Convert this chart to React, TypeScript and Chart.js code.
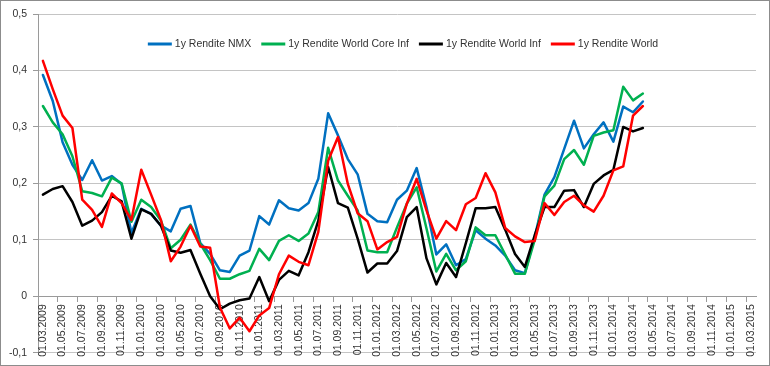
import React, { useEffect, useRef } from 'react';
import { Chart, registerables } from 'chart.js';

Chart.register(...registerables);

// ---- data ----
const categories: string[] = [
  '01.03.2009', '01.04.2009', '01.05.2009', '01.06.2009', '01.07.2009', '01.08.2009', '01.09.2009', '01.10.2009', '01.11.2009', '01.12.2009',
  '01.01.2010', '01.02.2010', '01.03.2010', '01.04.2010', '01.05.2010', '01.06.2010', '01.07.2010', '01.08.2010', '01.09.2010', '01.10.2010', '01.11.2010', '01.12.2010',
  '01.01.2011', '01.02.2011', '01.03.2011', '01.04.2011', '01.05.2011', '01.06.2011', '01.07.2011', '01.08.2011', '01.09.2011', '01.10.2011', '01.11.2011', '01.12.2011',
  '01.01.2012', '01.02.2012', '01.03.2012', '01.04.2012', '01.05.2012', '01.06.2012', '01.07.2012', '01.08.2012', '01.09.2012', '01.10.2012', '01.11.2012', '01.12.2012',
  '01.01.2013', '01.02.2013', '01.03.2013', '01.04.2013', '01.05.2013', '01.06.2013', '01.07.2013', '01.08.2013', '01.09.2013', '01.10.2013', '01.11.2013', '01.12.2013',
  '01.01.2014', '01.02.2014', '01.03.2014', '01.04.2014', '01.05.2014', '01.06.2014', '01.07.2014', '01.08.2014', '01.09.2014', '01.10.2014', '01.11.2014', '01.12.2014',
  '01.01.2015', '01.02.2015', '01.03.2015',
];

const seriesNames: string[] = [
  '1y Rendite NMX',
  '1y Rendite World Core Inf',
  '1y Rendite World Inf',
  '1y Rendite World',
];

const nmx: number[] = [
  0.392, 0.346, 0.273, 0.233, 0.206, 0.241, 0.205, 0.213, 0.199, 0.112,
  0.155, 0.146, 0.125, 0.115, 0.155, 0.160, 0.094, 0.075, 0.046, 0.043, 0.072, 0.081,
  0.142, 0.127, 0.170, 0.156, 0.152, 0.165, 0.208, 0.324, 0.285, 0.243, 0.216, 0.146,
  0.133, 0.131, 0.171, 0.187, 0.227, 0.158, 0.074, 0.092, 0.055, 0.066, 0.117, 0.102,
  0.090, 0.072, 0.046, 0.041, 0.105, 0.180, 0.211, 0.261, 0.311, 0.262, 0.287, 0.308,
  0.274, 0.336, 0.326, 0.345,
];

const worldCoreInf: number[] = [
  0.337, 0.308, 0.287, 0.248, 0.186, 0.183, 0.177, 0.210, 0.200, 0.132,
  0.171, 0.158, 0.134, 0.085, 0.100, 0.127, 0.093, 0.064, 0.031, 0.031, 0.039, 0.045,
  0.084, 0.064, 0.098, 0.108, 0.098, 0.111, 0.149, 0.263, 0.205, 0.178, 0.152, 0.081,
  0.078, 0.078, 0.122, 0.164, 0.193, 0.120, 0.044, 0.075, 0.046, 0.062, 0.122, 0.108,
  0.108, 0.074, 0.040, 0.040, 0.100, 0.177, 0.196, 0.243, 0.259, 0.233, 0.284, 0.290,
  0.294, 0.371, 0.347, 0.359,
];

const worldInf: number[] = [
  0.180, 0.190, 0.195, 0.167, 0.125, 0.134, 0.149, 0.178, 0.168, 0.102,
  0.154, 0.146, 0.125, 0.081, 0.077, 0.082, 0.040, 0.000, -0.023, -0.013, -0.007, -0.004,
  0.034, -0.009, 0.029, 0.045, 0.037, 0.078, 0.134, 0.229, 0.165, 0.157, 0.102, 0.042,
  0.058, 0.058, 0.080, 0.140, 0.158, 0.067, 0.021, 0.059, 0.034, 0.094, 0.156, 0.156,
  0.158, 0.118, 0.075, 0.052, 0.108, 0.158, 0.158, 0.187, 0.188, 0.158, 0.199, 0.214,
  0.224, 0.300, 0.292, 0.298,
];

const world: number[] = [
  0.417, 0.367, 0.320, 0.298, 0.171, 0.153, 0.123, 0.182, 0.165, 0.135,
  0.224, 0.180, 0.135, 0.062, 0.088, 0.125, 0.088, 0.086, -0.020, -0.057, -0.038, -0.062,
  -0.034, -0.021, 0.039, 0.072, 0.061, 0.055, 0.114, 0.240, 0.282, 0.199, 0.147, 0.133,
  0.083, 0.096, 0.105, 0.164, 0.208, 0.152, 0.102, 0.133, 0.117, 0.163, 0.174, 0.218,
  0.184, 0.121, 0.106, 0.096, 0.098, 0.165, 0.144, 0.167, 0.178, 0.161, 0.150, 0.178,
  0.223, 0.230, 0.320, 0.337,
];

const seriesValues: number[][] = [nmx, worldCoreInf, worldInf, world];
const seriesColors: string[] = ['#0070C0', '#00B050', '#000000', '#FF0000'];

const yMin = -0.1;
const yMax = 0.5;
const yStep = 0.1;

// ---- styles ----
const FONT_FAMILY = '"Liberation Sans", Arial, sans-serif';
const FONT_SIZE = 10.5;
const TEXT_COLOR = '#333333';
const GRID_COLOR = '#c4c4c4';
const AXIS_COLOR = '#9a9a9a';

const insideLegend = {
  id: 'insideLegend',
  afterDatasetsDraw(chart: any) {
    const ctx = chart.ctx as CanvasRenderingContext2D;
    const area = chart.chartArea;
    ctx.save();
    ctx.font = `${FONT_SIZE}px ${FONT_FAMILY}`;
    const lineLen = 24;
    const textGap = 3;
    const itemGap = 10;
    const items = chart.data.datasets.map((ds: any) => ({
      text: ds.label as string,
      color: ds.borderColor as string,
      w: ctx.measureText(ds.label).width,
    }));
    const total =
      items.reduce((s: number, it: any) => s + lineLen + textGap + it.w, 0) + itemGap * (items.length - 1);
    const cx = (area.left + area.right) / 2 + 6;
    const cy = area.top + 30;
    let x = cx - total / 2;
    ctx.textBaseline = 'middle';
    ctx.textAlign = 'left';
    for (const it of items) {
      ctx.strokeStyle = it.color;
      ctx.lineWidth = 3;
      ctx.lineCap = 'butt';
      ctx.beginPath();
      ctx.moveTo(x, cy);
      ctx.lineTo(x + lineLen, cy);
      ctx.stroke();
      ctx.fillStyle = TEXT_COLOR;
      ctx.fillText(it.text, x + lineLen + textGap, cy + 0.5);
      x += lineLen + textGap + it.w + itemGap;
    }
    ctx.restore();
  },
};

function fmt(v: number): string {
  if (Math.abs(v) < 1e-9) return '0';
  return v.toFixed(1).replace('.', ',');
}

export default function App() {
  const canvasRef = useRef<HTMLCanvasElement | null>(null);

  useEffect(() => {
    if (!canvasRef.current) return;
    const chart = new Chart(canvasRef.current, {
      type: 'line',
      data: {
        labels: categories,
        datasets: seriesNames.map((name, i) => ({
          label: name,
          data: seriesValues[i],
          borderColor: seriesColors[i],
          backgroundColor: seriesColors[i],
          borderWidth: 2.5,
          pointRadius: 0,
          pointHoverRadius: 0,
          tension: 0,
          fill: false,
          borderJoinStyle: 'round' as const,
          borderCapStyle: 'round' as const,
          order: seriesNames.length - i,
        })),
      },
      options: {
        animation: false,
        responsive: false,
        maintainAspectRatio: false,
        layout: { padding: { left: 0, right: 13, top: 13, bottom: 12 } },
        plugins: {
          legend: { display: false },
          tooltip: { enabled: false },
        },
        scales: {
          y: {
            min: yMin,
            max: yMax,
            afterFit(scale: any) {
              scale.width = 37;
            },
            ticks: {
              stepSize: yStep,
              padding: 6,
              color: TEXT_COLOR,
              font: { family: FONT_FAMILY, size: FONT_SIZE },
              callback: (v: any) => fmt(Number(v)),
            },
            grid: {
              color: GRID_COLOR,
              lineWidth: 1,
              drawTicks: true,
              tickLength: 5,
              tickColor: AXIS_COLOR,
            },
            border: { display: true, color: AXIS_COLOR, width: 1 },
          },
          x: {
            type: 'category',
            position: { y: 0 } as any,
            offset: true,
            ticks: {
              autoSkip: false,
              minRotation: 90,
              maxRotation: 90,
              padding: 3,
              color: TEXT_COLOR,
              font: { family: FONT_FAMILY, size: FONT_SIZE },
              callback: (_v: any, idx: number) => (idx % 2 === 0 ? categories[idx] : ''),
            },
            grid: {
              offset: true,
              drawOnChartArea: false,
              drawTicks: true,
              tickLength: 5,
              color: (ctx: any) => (ctx.index % 2 === 0 ? AXIS_COLOR : 'rgba(0,0,0,0)'),
            },
            border: { display: true, color: AXIS_COLOR, width: 1 },
          },
        },
      },
      plugins: [insideLegend],
    });
    return () => chart.destroy();
  }, []);

  return (
    <div
      style={{
        position: 'absolute',
        left: 0,
        top: 0,
        width: 770,
        height: 366,
        boxSizing: 'border-box',
        border: '1px solid #8c8c8c',
        background: '#ffffff',
      }}
    >
      <canvas ref={canvasRef} width={768} height={364} style={{ display: 'block' }} />
    </div>
  );
}
